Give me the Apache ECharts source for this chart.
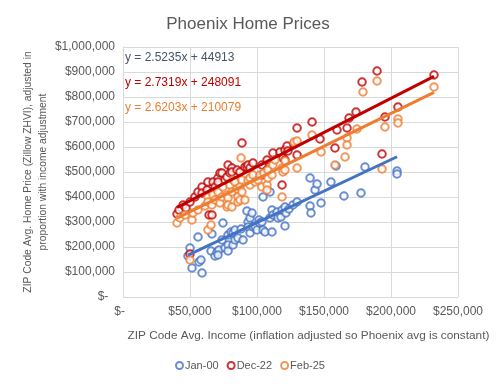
<!DOCTYPE html>
<html>
<head>
<meta charset="utf-8">
<script src="https://cdn.jsdelivr.net/npm/echarts@6/dist/echarts.min.js"></script>
<style>html,body{margin:0;padding:0;background:#fff}#c{width:496px;height:389px}</style>
</head>
<body>
<div id="c"></div>
<script>
const seriesNames = ["Jan-00", "Dec-22", "Feb-25"];
const seriesColors = ["#4472C4", "#C00000", "#ED7D31"];
const eqColors = ["#44546A", "#C00000", "#ED7D31"];
const slopes = [2.5235, 2.7319, 2.6203];
const intercepts = [44913, 248091, 210079];
const eqTexts = ["y = 2.5235x + 44913", "y = 2.7319x + 248091", "y = 2.6203x + 210079"];
const xTicks = [0, 50000, 100000, 150000, 200000, 250000];
const yTicks = [0, 100000, 200000, 300000, 400000, 500000, 600000, 700000, 800000, 900000, 1000000];
const yAxisTitle = "ZIP Code Avg. Home Price (Zillow ZHVI), adjusted in\nproportion with income adjustment";
const xAxisTitle = "ZIP Code Avg. Income (inflation adjusted so Phoenix avg is constant)";

const incomeJan00 = [48500,50000,51500,56000,56700,58200,59000,66400,65700,68700,70200,71600,70900,73900,74600,76100,78400,78400,78400,80600,82100,82100,83600,83600,85800,88100,89600,92500,93300,93300,94800,94800,96300,97100,98500,100000,101500,102200,103700,104500,104500,106000,109700,109700,111200,111200,111900,114900,115700,117900,118700,120900,120900,121600,123900,126900,129900,139600,139600,140300,143300,144800,147800,155200,159000,164900,177600,180600,204500,204500];
const priceJan00 = [164000,196000,116000,240000,140000,148000,96000,252000,184000,164000,180000,188000,168000,228000,296000,196000,248000,208000,184000,260000,256000,208000,268000,228000,236000,272000,228000,344000,300000,280000,316000,256000,336000,280000,284000,268000,308000,296000,300000,400000,268000,260000,420000,316000,348000,260000,328000,340000,316000,320000,348000,360000,284000,336000,352000,368000,380000,476000,364000,336000,428000,452000,376000,460000,524000,404000,416000,520000,504000,492000];

const incomeDec22 = [40300,41800,44800,47000,50000,53700,56000,59000,59000,62700,63400,64200,66400,66400,67200,68700,70900,70900,72400,73900,77600,78400,79900,81300,81300,85100,87300,88800,91000,92500,93300,94800,97000,103700,103700,107500,107500,111900,117200,118700,119400,120900,120900,122400,123100,127600,129900,129900,141100,147000,158200,159700,167200,168700,173900,178400,189600,193300,195500,205200,232100,50000];
const priceDec22 = [332000,348000,368000,356000,380000,400000,420000,440000,416000,428000,460000,328000,328000,416000,460000,440000,476000,460000,496000,496000,480000,528000,496000,516000,500000,508000,500000,616000,520000,520000,528000,516000,536000,528000,488000,548000,508000,576000,580000,448000,556000,548000,588000,604000,584000,612000,676000,568000,700000,632000,596000,668000,676000,716000,740000,860000,904000,572000,720000,760000,888000,172000];

const incomeFeb25 = [40300,42500,46300,50000,51500,52200,56000,61200,63400,63400,63400,65700,66400,67200,68700,70900,72400,73900,74600,77600,77600,78400,78400,79900,81300,81300,82100,83600,85100,85800,85800,87300,87300,88100,88800,88800,91000,93300,94800,94800,97000,98500,100800,102200,103700,105200,107500,107500,108200,108200,111200,111900,113400,118700,118700,119400,120900,120900,127600,129900,129900,141100,147800,158200,165700,167200,167200,174600,179100,189600,193300,195500,205200,205200,232100];
const priceFeb25 = [296000,316000,328000,148000,308000,336000,348000,364000,400000,380000,268000,288000,368000,408000,388000,420000,376000,400000,440000,408000,360000,396000,368000,448000,420000,360000,468000,460000,432000,400000,380000,440000,388000,556000,468000,420000,388000,468000,476000,448000,488000,460000,468000,488000,440000,496000,448000,428000,508000,476000,488000,528000,548000,516000,400000,500000,544000,508000,620000,624000,516000,648000,580000,528000,560000,636000,608000,672000,820000,864000,512000,680000,712000,696000,840000];

const incomes = [incomeJan00, incomeDec22, incomeFeb25];
const prices = [priceJan00, priceDec22, priceFeb25];

function money(v) {
  if (v === 0) return "$-  ";
  return "$" + v.toLocaleString("en-US");
}

const FONT = "Liberation Sans";
const series = [];
for (let i = 0; i < 3; i++) {
  const pts = incomes[i].map((x, k) => [x, prices[i][k]]);
  series.push({
    name: seriesNames[i], type: "scatter", data: pts,
    symbol: "emptyCircle", symbolSize: 7.5,
    itemStyle: { color: seriesColors[i], borderWidth: 1.3 },
    z: 2
  });
}
for (let i = 0; i < 3; i++) {
  const xmin = Math.min(...incomes[i]);
  const xmax = Math.max(...incomes[i]);
  series.push({
    name: seriesNames[i] + " trend", type: "line", showSymbol: false, symbol: "none",
    data: [[xmin, slopes[i] * xmin + intercepts[i]], [xmax, slopes[i] * xmax + intercepts[i]]],
    lineStyle: { color: seriesColors[i], width: 3 }, z: 3, silent: true
  });
}

const graphics = eqTexts.map((t, i) => ({
  type: "text", left: 125, top: 52 + i * 25, silent: true,
  style: { text: t, fill: eqColors[i], font: "12px " + FONT }
}));
graphics.push({
  type: "text", x: 36, y: 172, rotation: Math.PI / 2, silent: true,
  style: { text: yAxisTitle, fill: "#595959", font: "10.3px " + FONT, align: "center", verticalAlign: "middle", lineHeight: 15 }
});

const chart = echarts.init(document.getElementById("c"), null, { renderer: "canvas" });
chart.setOption({
  animation: false,
  backgroundColor: "#fff",
  textStyle: { fontFamily: FONT },
  title: {
    text: "Phoenix Home Prices", left: "center", top: 11,
    textStyle: { fontFamily: FONT, fontSize: 17, fontWeight: "normal", color: "#595959" }
  },
  grid: { left: 123, right: 38, top: 47, bottom: 92 },
  xAxis: {
    type: "value", min: xTicks[0], max: xTicks[xTicks.length - 1], interval: 50000,
    axisLine: { show: false }, axisTick: { show: false },
    splitLine: { show: true, lineStyle: { color: "#D9D9D9", width: 1 } },
    axisLabel: { formatter: money, color: "#595959", fontSize: 12, fontFamily: FONT, margin: 9 },
    name: xAxisTitle,
    nameLocation: "middle", nameGap: 33,
    nameTextStyle: { color: "#595959", fontSize: 11.8, fontFamily: FONT, padding: [0, 0, 0, 36] }
  },
  yAxis: {
    type: "value", min: yTicks[0], max: yTicks[yTicks.length - 1], interval: 100000,
    axisLine: { show: true, lineStyle: { color: "#D9D9D9" } }, axisTick: { show: false },
    splitLine: { show: true, lineStyle: { color: "#D9D9D9", width: 1 } },
    axisLabel: { formatter: money, color: "#595959", fontSize: 12, fontFamily: FONT, margin: 8 }
  },
  legend: {
    data: seriesNames, bottom: 13, left: 170, itemGap: 8,
    itemWidth: 7, itemHeight: 7,
    textStyle: { color: "#595959", fontSize: 11, fontFamily: FONT, padding: [0, 0, 0, -3] }
  },
  graphic: graphics,
  series: series
});
</script>
</body>
</html>
